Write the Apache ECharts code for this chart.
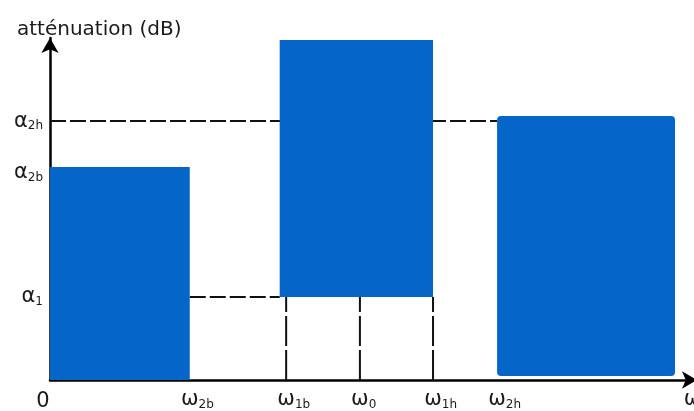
<!DOCTYPE html>
<html>
<head>
<meta charset="utf-8">
<script src="https://cdn.jsdelivr.net/npm/echarts@6/dist/echarts.min.js"></script>
<style>
  html, body { margin: 0; padding: 0; background: #fff; }
  #gabarit { width: 694px; height: 411px; }
</style>
</head>
<body>
<div id="gabarit"></div>
<script>
// gabarit d'un coupe-bande, unités arbitraires (x et y de 0 à 100)
const bandStart = [0, 35.5, 69.1];
const bandEnd = [21.6, 59.2, 96.6];
const bandLow = [0, 24.3, 1.2];
const bandHigh = [62.3, 99.4, 77.2];

const xTickValues = [0, 21.6, 36.5, 47.9, 59.2, 69.1, 99.3];
const xTickLabels = ['0', 'ω2b', 'ω1b', 'ω0', 'ω1h', 'ω2h', 'ω'];
const yTickValues = [24.3, 62.3, 75.7];
const yTickLabels = ['α1', 'α2b', 'α2h'];

const alpha1 = 24.3, alpha2h = 75.7;
const omega2b = 21.6, omega1b = 36.5, omega0 = 47.9, omega1h = 59.2, omega2h = 69.1;

const chartDom = document.getElementById('gabarit');
const myChart = echarts.init(chartDom);

const bands = bandStart.map((s, i) => [s, bandEnd[i], bandLow[i], bandHigh[i]]);

// lignes de construction en pointillés
const guides = [
  { pts: [[0, alpha2h], [omega2h, alpha2h]], dash: [16, 4] },
  { pts: [[omega2b, alpha1], [bandStart[1], alpha1]], dash: [16, 4] },
  { pts: [[omega1b, 0], [omega1b, alpha1]], dash: [30, 4] },
  { pts: [[omega0, 0], [omega0, alpha1]], dash: [30, 4] },
  { pts: [[omega1h, 0], [omega1h, alpha1]], dash: [30, 4] }
];

const font = 'DejaVu Sans';
const mainStyle = { fontSize: 21, color: '#1a1a1a', fontFamily: font };
const subStyle = { fontSize: 12, color: '#1a1a1a', fontFamily: font, padding: [10, 0, 0, 0] };

let option = {
  animation: false,
  backgroundColor: '#fff',
  title: {
    text: 'atténuation (dB)',
    left: 12,
    top: 15,
    textStyle: { color: '#1a1a1a', fontSize: 20, fontWeight: 'normal', fontFamily: font }
  },
  grid: { left: 50, top: 38, right: -3, bottom: 31, outerBoundsMode: 'none', containLabel: false },
  xAxis: {
    type: 'value',
    min: 0,
    max: 100,
    splitLine: { show: false },
    axisTick: { show: false },
    axisLine: {
      onZero: false,
      symbol: ['none', 'arrow'],
      symbolSize: [13, 15],
      lineStyle: { color: '#000', width: 2.5 }
    },
    axisLabel: {
      customValues: xTickValues,
      showMinLabel: true,
      showMaxLabel: true,
      hideOverlap: false,
      margin: 9,
      formatter: function (v) {
        const s = xTickLabels[xTickValues.indexOf(v)];
        if (s === '0') return '{z|0}';
        const sub = s.slice(1);
        if (!sub) return '{m|' + s + '}';
        // espace invisible à gauche pour centrer le omega sur la graduation
        return '{h|' + sub + '}{m|' + s[0] + '}{s|' + sub + '}';
      },
      rich: {
        m: mainStyle,
        s: subStyle,
        h: Object.assign({}, subStyle, { color: 'rgba(0,0,0,0)' }),
        z: Object.assign({}, mainStyle, { padding: [2, 14, 0, 0] })
      }
    }
  },
  yAxis: {
    type: 'value',
    min: 0,
    max: 100,
    splitLine: { show: false },
    axisTick: { show: false },
    axisLine: {
      onZero: false,
      symbol: ['none', 'arrow'],
      symbolSize: [13, 15],
      lineStyle: { color: '#000', width: 2.5 }
    },
    axisLabel: {
      customValues: yTickValues,
      margin: 7,
      formatter: function (v) {
        const s = yTickLabels[yTickValues.indexOf(v)];
        // alpha2b un peu sous le haut du gabarit
        if (s === 'α2b') return '{m2|' + s[0] + '}{s2|' + s.slice(1) + '}';
        return '{m|' + s[0] + '}{s|' + s.slice(1) + '}';
      },
      rich: {
        m: mainStyle,
        s: subStyle,
        m2: Object.assign({}, mainStyle, { padding: [12, 0, 0, 0] }),
        s2: Object.assign({}, subStyle, { padding: [22, 0, 0, 0] })
      }
    }
  },
  series: guides.map(g => ({
    type: 'line',
    data: g.pts,
    symbol: 'none',
    silent: true,
    z: 1,
    lineStyle: { color: '#111', width: 2, type: g.dash }
  })).concat([{
    type: 'custom',
    z: 5,
    clip: false,
    data: bands,
    renderItem: function (params, api) {
      const p0 = api.coord([api.value(0), api.value(3)]);
      const p1 = api.coord([api.value(1), api.value(2)]);
      return {
        type: 'rect',
        shape: { x: p0[0], y: p0[1], width: p1[0] - p0[0], height: p1[1] - p0[1], r: params.dataIndex === 2 ? 4 : 0 },
        style: { fill: '#0565c8' }
      };
    }
  }])
};

option && myChart.setOption(option);
</script>
</body>
</html>
